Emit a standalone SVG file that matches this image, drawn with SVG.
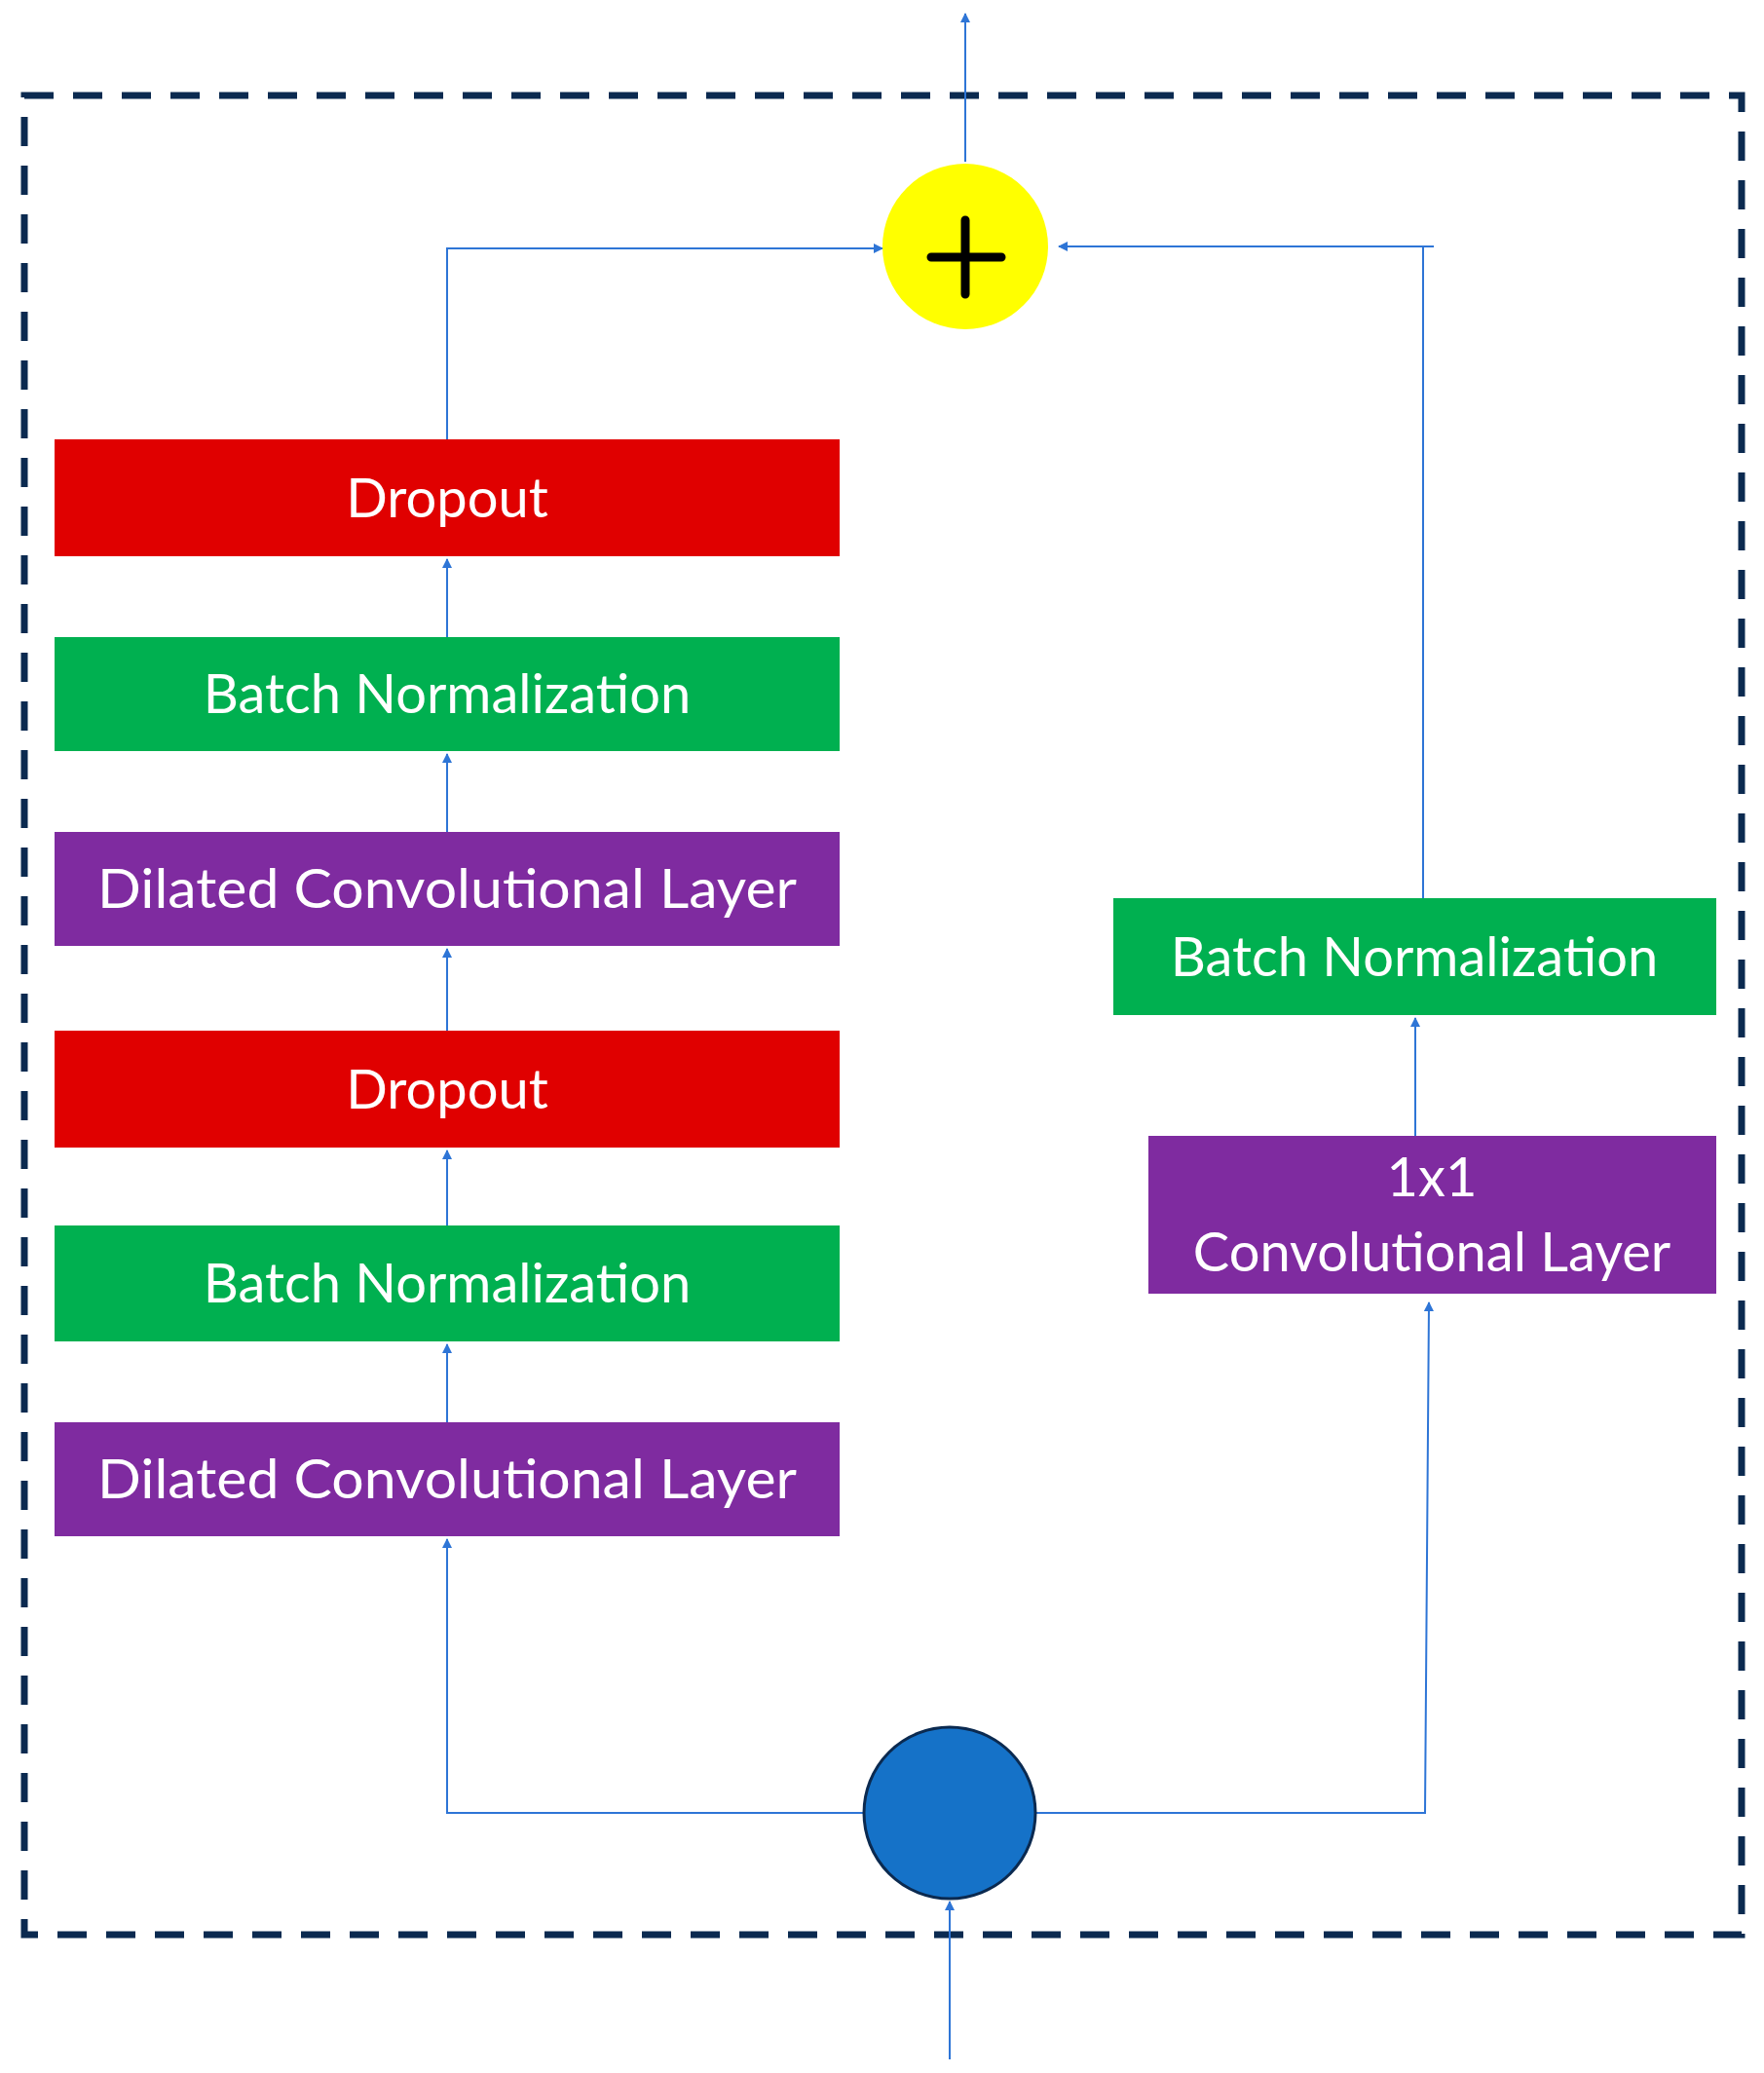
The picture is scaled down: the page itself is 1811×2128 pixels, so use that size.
<svg xmlns="http://www.w3.org/2000/svg" width="1811" height="2128" viewBox="0 0 1811 2128">
<style>
.t{font-family:Lato,"Open Sans","Liberation Sans",sans-serif;font-size:56px;fill:#fff;text-anchor:middle}
.c{fill:none;stroke:#2E75D6;stroke-width:2}
.r{fill:#E00000}.g{fill:#00B050}.p{fill:#7F2BA0}
</style>
<defs><marker id="a" markerWidth="10" markerHeight="10" refX="9" refY="5" orient="auto" markerUnits="userSpaceOnUse" viewBox="0 0 10 10"><path d="M0,0 L10,5 L0,10 Z" fill="#2E75D6"/></marker></defs>
<rect x="25" y="98" width="1763" height="1888" fill="none" stroke="#0B2A50" stroke-width="7" stroke-dasharray="30 20"/>
<g id="connectors">
<path class="c" d="M991,166 V14" marker-end="url(#a)"/>
<path class="c" d="M459,451 V255 H906" marker-end="url(#a)"/>
<path class="c" d="M1461,922 V253 H1472 H1087" marker-end="url(#a)"/>
<path class="c" d="M459,654 V574" marker-end="url(#a)"/>
<path class="c" d="M459,854 V774" marker-end="url(#a)"/>
<path class="c" d="M459,1058 V974" marker-end="url(#a)"/>
<path class="c" d="M459,1258 V1181" marker-end="url(#a)"/>
<path class="c" d="M459,1460 V1380" marker-end="url(#a)"/>
<path class="c" d="M886,1861 H459 V1580" marker-end="url(#a)"/>
<path class="c" d="M1064,1861 H1463 L1467,1337" marker-end="url(#a)"/>
<path class="c" d="M1453,1166 V1045" marker-end="url(#a)"/>
<path class="c" d="M975,2114 V1952" marker-end="url(#a)"/>
</g>
<g id="add"><circle cx="991" cy="253" r="85" fill="#FFFF00"/><path d="M956,264 H1028 M991,226 V302" stroke="#000" stroke-width="9" stroke-linecap="round"/></g>
<g id="input"><circle cx="975" cy="1861" r="88" fill="#1572C8" stroke="#0B2A50" stroke-width="3"/></g>
<g id="dropout1"><rect class="r" x="56" y="451" width="806" height="120"/><text class="t" x="459" y="531">Dropout</text></g>
<g id="bn1"><rect class="g" x="56" y="654" width="806" height="117"/><text class="t" x="459" y="732">Batch Normalization</text></g>
<g id="dcl1"><rect class="p" x="56" y="854" width="806" height="117"/><text class="t" x="459" y="932" textLength="718" lengthAdjust="spacingAndGlyphs">Dilated Convolutional Layer</text></g>
<g id="dropout2"><rect class="r" x="56" y="1058" width="806" height="120"/><text class="t" x="459" y="1138">Dropout</text></g>
<g id="bn2"><rect class="g" x="56" y="1258" width="806" height="119"/><text class="t" x="459" y="1337">Batch Normalization</text></g>
<g id="dcl2"><rect class="p" x="56" y="1460" width="806" height="117"/><text class="t" x="459" y="1538" textLength="718" lengthAdjust="spacingAndGlyphs">Dilated Convolutional Layer</text></g>
<g id="bn3"><rect class="g" x="1143" y="922" width="619" height="120"/><text class="t" x="1452" y="1002">Batch Normalization</text></g>
<g id="conv1x1"><rect class="p" x="1179" y="1166" width="583" height="162"/><text class="t" x="1470" y="1228">1x1</text><text class="t" x="1470" y="1305">Convolutional Layer</text></g>
</svg>
